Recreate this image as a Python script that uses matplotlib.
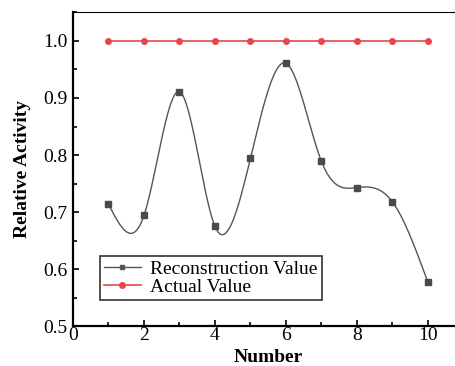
import numpy as np
import matplotlib.pyplot as plt
from matplotlib.ticker import MultipleLocator

plt.rcParams['font.family'] = ['Liberation Serif', 'DejaVu Serif']

number = [1, 2, 3, 4, 5, 6, 7, 8, 9, 10]
reconstruction = [0.714, 0.694, 0.911, 0.675, 0.794, 0.961, 0.789, 0.743, 0.718, 0.577]
actual = [1.0, 1.0, 1.0, 1.0, 1.0, 1.0, 1.0, 1.0, 1.0, 1.0]


def natural_spline(x, y, xs):
    # plain natural cubic spline, no scipy needed
    x = np.asarray(x, float)
    y = np.asarray(y, float)
    n = len(x)
    h = np.diff(x)
    A = np.zeros((n, n))
    b = np.zeros(n)
    A[0, 0] = A[-1, -1] = 1
    for i in range(1, n - 1):
        A[i, i - 1] = h[i - 1]
        A[i, i] = 2 * (h[i - 1] + h[i])
        A[i, i + 1] = h[i]
        b[i] = 3 * ((y[i + 1] - y[i]) / h[i] - (y[i] - y[i - 1]) / h[i - 1])
    c = np.linalg.solve(A, b)
    idx = np.clip(np.searchsorted(x, xs) - 1, 0, n - 2)
    dx = xs - x[idx]
    bb = (y[idx + 1] - y[idx]) / h[idx] - h[idx] * (2 * c[idx] + c[idx + 1]) / 3
    dd = (c[idx + 1] - c[idx]) / (3 * h[idx])
    return y[idx] + bb * dx + c[idx] * dx ** 2 + dd * dx ** 3


fig = plt.figure(figsize=(4.55, 3.66), dpi=100)
ax = fig.add_axes([0.1604, 0.109, 0.858, 0.857])

xs = np.linspace(1, 10, 400)
ax.plot(xs, natural_spline(number, reconstruction, xs), color='#555555', lw=1.0)
ax.plot(number, reconstruction, ls='none', marker='s', ms=4, color='#4a4a4a')
ax.plot([], [], color='#555555', lw=1.0, marker='s', ms=3, label='Reconstruction Value')
ax.plot(number, actual, color='#e8474a', lw=1.2, marker='o', ms=4, label='Actual Value')

ax.set_xlim(0, 11)
ax.set_ylim(0.5, 1.05)
ax.xaxis.set_major_locator(MultipleLocator(2))
ax.xaxis.set_minor_locator(MultipleLocator(1))
ax.yaxis.set_major_locator(MultipleLocator(0.1))
ax.yaxis.set_minor_locator(MultipleLocator(0.05))
ax.yaxis.set_major_formatter(plt.FuncFormatter(lambda v, p: f'{v:.1f}'))
ax.tick_params(which='both', direction='in', top=False, right=False, labelsize=14, width=1.2)
ax.tick_params(which='major', length=4)
ax.tick_params(which='minor', length=3)
ax.tick_params(axis='x', pad=1)
ax.tick_params(axis='y', pad=4)

for s in ['left', 'bottom']:
    ax.spines[s].set_linewidth(1.6)
ax.spines['top'].set_linewidth(0.8)
ax.spines['right'].set_visible(False)

ax.set_xlabel('Number', fontsize=14, fontweight='bold', labelpad=3)
ax.set_ylabel('Relative Activity', fontsize=14, fontweight='bold', labelpad=9)

leg = ax.legend(loc='lower left', bbox_to_anchor=(0.069, 0.083), fontsize=14,
                frameon=True, fancybox=False, edgecolor='black', handlelength=1.9,
                borderpad=0.2, labelspacing=0.05, handletextpad=0.5,
                borderaxespad=0)
leg.get_frame().set_linewidth(1.2)

fig.savefig('out.png', dpi=100)
